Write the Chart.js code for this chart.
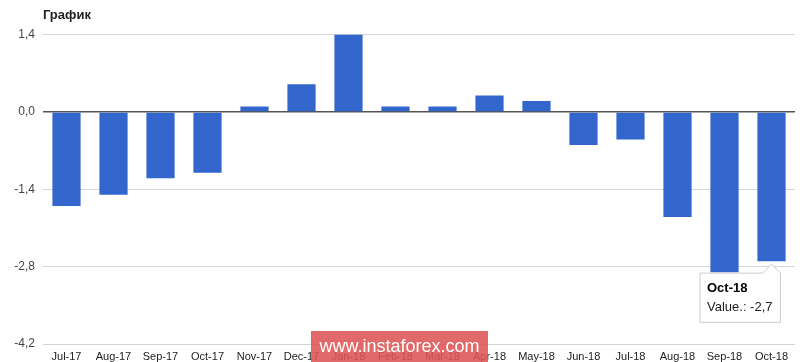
<!DOCTYPE html>
<html>
<head>
<meta charset="utf-8">
<script src="https://cdn.jsdelivr.net/npm/chart.js@4/dist/chart.umd.min.js"></script>
<style>
  html, body { margin: 0; padding: 0; background: #fff; }
  #wrap { position: relative; width: 800px; height: 362px; }
  #mark {
    position: absolute; left: 311px; top: 331px; width: 177px; height: 31px;
    background: rgba(222, 84, 84, 0.88); color: #fff;
    font: 18px Arial, "Liberation Sans", sans-serif; line-height: 31px; text-align: center;
  }
</style>
</head>
<body>
<div id="wrap">
  <canvas id="chart" width="800" height="362"></canvas>
  <div id="mark">www.instaforex.com</div>
</div>
<script>
const months = ['Jul-17', 'Aug-17', 'Sep-17', 'Oct-17', 'Nov-17', 'Dec-17', 'Jan-18', 'Feb-18',
    'Mar-18', 'Apr-18', 'May-18', 'Jun-18', 'Jul-18', 'Aug-18', 'Sep-18', 'Oct-18'];
const values = [-1.7, -1.5, -1.2, -1.1, 0.1, 0.5, 1.4, 0.1, 0.1, 0.3, 0.2, -0.6, -0.5, -1.9, -2.9, -2.7];
const yTicks = [-4.2, -2.8, -1.4, 0, 1.4];

function fmt(v) {
    return v.toFixed(1).replace('.', ',');
}

document.addEventListener('DOMContentLoaded', function () {
    const ctx = document.getElementById('chart');
    const chart = new Chart(ctx, {
        type: 'bar',
        data: {
            labels: months,
            datasets: [{
                label: 'Value.',
                data: values,
                backgroundColor: '#3366cc',
                borderWidth: 0,
                barPercentage: 0.6,
                categoryPercentage: 1
            }]
        },
        options: {
            responsive: false,
            animation: false,
            events: [],
            layout: { padding: { left: 0, right: 5, top: 0, bottom: 0 } },
            plugins: {
                legend: { display: false },
                title: {
                    display: true,
                    text: 'График',
                    align: 'start',
                    fullSize: false,
                    color: '#222',
                    font: { family: 'Arial', size: 13, weight: 'bold' },
                    padding: { top: 8, bottom: 11 }
                },
                tooltip: {
                    backgroundColor: '#fff',
                    borderColor: '#ccc',
                    borderWidth: 1,
                    titleColor: '#000',
                    bodyColor: '#222',
                    titleFont: { family: 'Arial', size: 13, weight: 'bold' },
                    bodyFont: { family: 'Arial', size: 13 },
                    titleMarginBottom: 4,
                    displayColors: false,
                    cornerRadius: 0,
                    caretSize: 9,
                    caretPadding: 3,
                    padding: { top: 7, bottom: 7, left: 7, right: 8 },
                    xAlign: 'right',
                    yAlign: 'top',
                    callbacks: {
                        label: function (item) {
                            return 'Value.: ' + fmt(item.raw);
                        }
                    }
                }
            },
            scales: {
                x: {
                    grid: { display: false, drawTicks: false, tickLength: 0 },
                    border: { display: false },
                    afterFit: function (scale) {
                        scale.height = 18;
                    },
                    ticks: {
                        color: '#222',
                        font: { family: 'Arial', size: 11 },
                        maxRotation: 0,
                        autoSkip: false,
                        padding: 6
                    }
                },
                y: {
                    min: -4.2,
                    max: 1.4,
                    afterBuildTicks: function (scale) {
                        scale.ticks = yTicks.map(v => ({ value: v }));
                    },
                    afterFit: function (scale) {
                        scale.width = 43;
                    },
                    border: { display: false },
                    grid: {
                        color: c => (c.tick && c.tick.value === 0) ? '#555' : '#d4d4d4',
                        lineWidth: c => (c.tick && c.tick.value === 0) ? 1.5 : 1,
                        drawTicks: false
                    },
                    ticks: {
                        color: '#444',
                        font: { family: 'Arial', size: 12 },
                        padding: 8,
                        callback: v => fmt(v)
                    }
                }
            }
        }
    });

    chart.tooltip.setActiveElements([{ datasetIndex: 0, index: 15 }], { x: 0, y: 0 });
    chart.update();
});
</script>
</body>
</html>
